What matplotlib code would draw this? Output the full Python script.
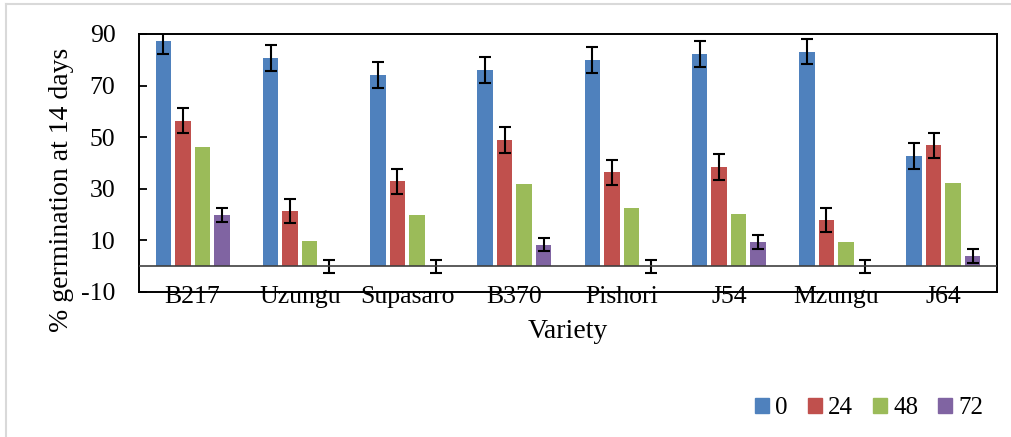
import matplotlib
matplotlib.use("Agg")
import matplotlib.pyplot as plt
import numpy as np
from matplotlib.lines import Line2D
from matplotlib.patches import Patch

plt.rcParams["font.family"] = ["Liberation Serif", "DejaVu Serif"]
plt.rcParams["axes.unicode_minus"] = False

varieties = ["B217", "Uzungu", "Supasaro", "B370", "Pishori", "J54", "Mzungu", "J64"]
hours = ["0", "24", "48", "72"]

# mean germination (%) per soaking time, with error bars where measured
germ_0 = [87.1, 80.7, 74.0, 76.0, 80.0, 82.3, 83.2, 42.7]
err_0 = [4.8, 5.0, 5.0, 5.0, 5.0, 5.0, 5.0, 5.0]
germ_24 = [56.4, 21.5, 32.9, 49.0, 36.4, 38.4, 17.9, 46.9]
err_24 = [4.8, 4.7, 4.8, 5.0, 4.9, 5.0, 4.7, 4.8]
germ_48 = [46.2, 9.7, 19.7, 31.7, 22.6, 20.2, 9.2, 32.1]
germ_72 = [19.9, 0, 0, 8.4, 0, 9.3, 0, 3.9]
err_72 = [2.7, 2.5, 2.5, 2.6, 2.5, 2.6, 2.5, 2.7]

colors = ["#4F81BD", "#C0504D", "#9BBB59", "#8064A2"]
series = [(germ_0, err_0), (germ_24, err_24), (germ_48, None), (germ_72, err_72)]

fig = plt.figure(figsize=(10.12, 4.37), dpi=100)
ax = fig.add_axes([139 / 1012, 1 - 292 / 437, 858 / 1012, 258 / 437])

x = np.arange(len(varieties))
step = 0.182
width = 0.145
for i, (vals, errs) in enumerate(series):
    pos = x + (i - 1.5) * step
    ax.bar(pos, vals, width=width, color=colors[i], zorder=2)
    if errs is not None:
        ax.errorbar(pos, vals, yerr=errs, fmt="none", ecolor="black",
                    elinewidth=1.5, capsize=4.5, capthick=1.5, zorder=3)

ax.axhline(0, color="#404040", lw=1.2, zorder=4)

ax.set_xlim(-0.5, len(varieties) - 0.5)
ax.set_ylim(-10, 90)
ax.set_yticks(np.arange(-10, 91, 20))
ax.set_xticks(x)
ax.set_xticklabels(varieties)
ax.tick_params(axis="y", direction="in", length=6, width=1.3, labelsize=18.5, pad=17)
ax.tick_params(axis="x", length=0, labelsize=18.5, pad=-4)
for sp in ax.spines.values():
    sp.set_linewidth(1.4)

fig.text(62 / 1012, 1 - 190 / 437, "% germination at 14 days", rotation=90,
         ha="center", va="center", fontsize=20)
fig.text(568 / 1012, 1 - 331 / 437, "Variety", ha="center", va="center", fontsize=20)

handles = [Patch(color=c) for c in colors]
fig.legend(handles, hours, loc="center right", bbox_to_anchor=(996 / 1012, 1 - 408 / 437),
           ncol=4, frameon=False, fontsize=18, handlelength=0.56, handleheight=0.56,
           handletextpad=0.25, columnspacing=0.8, borderpad=0)

# light frame line along top and left edges of the chart area
fig.add_artist(Line2D([6 / 1012, 6 / 1012], [0, 1 - 4 / 437], color="#d9d9d9", lw=1.5))
fig.add_artist(Line2D([6 / 1012, 1], [1 - 4 / 437, 1 - 4 / 437], color="#d9d9d9", lw=1.5))

fig.savefig("out.png", dpi=100)
